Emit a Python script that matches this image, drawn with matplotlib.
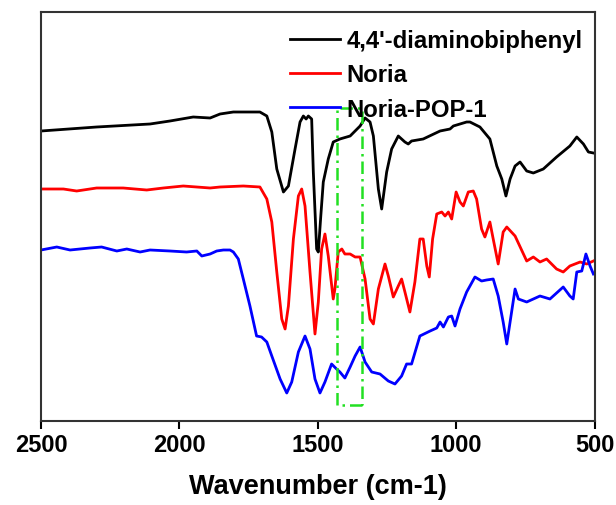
import matplotlib
matplotlib.use("Agg")
import matplotlib.pyplot as plt
from matplotlib.patches import Rectangle

plt.rcParams['font.family'] = ['Liberation Sans', 'DejaVu Sans']
plt.rcParams['font.weight'] = 'bold'

# 4,4'-diaminobiphenyl (black), wavenumber in cm-1, intensity in a.u.
wn_dab = [2500, 2299, 2106, 2034, 1950, 1889, 1853, 1805, 1709, 1684, 1666, 1648,
          1624, 1606, 1582, 1564, 1552, 1542, 1534, 1522, 1516, 1504, 1498, 1489,
          1480, 1462, 1444, 1420, 1383, 1347, 1329, 1311, 1299, 1281, 1269, 1251,
          1233, 1209, 1185, 1173, 1161, 1119, 1058, 1022, 1010, 962, 950, 914, 878,
          853, 835, 820, 805, 787, 769, 745, 721, 685, 637, 589, 564, 540, 522, 504]
int_dab = [297, 301, 304, 307, 311, 310, 314, 316, 316, 312, 296, 259,
           236, 242, 279, 306, 312, 309, 312, 309, 256, 179, 176, 212,
           246, 269, 286, 289, 292, 302, 310, 306, 292, 239, 219, 256,
           279, 292, 286, 284, 287, 289, 297, 299, 302, 306, 306, 301, 289,
           262, 249, 232, 249, 262, 266, 257, 255, 259, 271, 282, 291, 284, 276, 275]

# Noria (red)
wn_noria = [2500, 2419, 2371, 2299, 2203, 2118, 2058, 1986, 1889, 1853, 1769, 1709,
            1684, 1666, 1648, 1630, 1618, 1606, 1588, 1570, 1558, 1546, 1528, 1510,
            1498, 1486, 1474, 1462, 1444, 1438, 1426, 1413, 1402, 1383, 1365, 1347,
            1329, 1311, 1299, 1281, 1257, 1245, 1227, 1209, 1197, 1185, 1167, 1149,
            1131, 1119, 1106, 1097, 1085, 1070, 1052, 1040, 1028, 1016, 1000, 986,
            974, 956, 938, 926, 908, 896, 878, 866, 848, 830, 817, 787, 745, 721,
            697, 673, 637, 613, 589, 552, 528, 504]
int_noria = [239, 239, 237, 240, 240, 238, 240, 242, 240, 241, 242, 241,
             229, 206, 156, 109, 99, 122, 189, 232, 239, 222, 156, 94,
             126, 179, 194, 172, 129, 139, 176, 179, 174, 174, 171, 171,
             149, 109, 104, 139, 164, 152, 131, 142, 149, 136, 116, 146,
             189, 189, 162, 151, 189, 214, 216, 212, 216, 209, 236, 226,
             222, 236, 237, 229, 199, 191, 206, 189, 164, 196, 201, 192, 167, 171,
             166, 169, 159, 156, 162, 166, 164, 167]

# Noria-POP-1 (blue)
wn_pop = [2500, 2443, 2395, 2323, 2281, 2226, 2190, 2142, 2106, 2034, 1974, 1937,
          1919, 1889, 1865, 1841, 1817, 1805, 1787, 1769, 1745, 1721, 1703, 1684,
          1666, 1636, 1612, 1594, 1570, 1546, 1528, 1510, 1492, 1474, 1450, 1432,
          1420, 1402, 1383, 1365, 1347, 1329, 1305, 1275, 1245, 1221, 1197, 1179,
          1161, 1131, 1094, 1070, 1058, 1046, 1028, 1016, 1004, 986, 962, 932, 908,
          890, 866, 848, 830, 817, 805, 787, 775, 745, 697, 661, 613, 589, 577,
          564, 546, 531, 516, 504]
int_pop = [178, 181, 178, 180, 181, 177, 179, 176, 178, 177, 176, 177,
           172, 174, 177, 178, 178, 176, 169, 149, 122, 92, 91, 86,
           72, 49, 35, 46, 76, 92, 79, 49, 35, 46, 64, 59,
           56, 50, 61, 72, 81, 66, 56, 54, 47, 44, 52, 64,
           64, 92, 97, 100, 106, 101, 111, 112, 102, 119, 136, 151, 147,
           148, 149, 132, 106, 84, 106, 139, 129, 126, 132, 129, 141, 132, 129,
           156, 157, 174, 162, 154]

labels = ["4,4'-diaminobiphenyl", "Noria", "Noria-POP-1"]
colors = ['black', 'red', 'blue']

# highlighted band
band = (1430, 1340)
band_y = (23, 320)

fig = plt.figure(figsize=(6.16, 5.06), dpi=100)
ax = fig.add_axes([41 / 616, 1 - 422 / 506, 553.5 / 616, 409 / 506])

for x, y, lab, c in zip([wn_dab, wn_noria, wn_pop], [int_dab, int_noria, int_pop], labels, colors):
    ax.plot(x, y, color=c, lw=2, label=lab)

rect = Rectangle((band[1], band_y[0]), band[0] - band[1], band_y[1] - band_y[0],
                 fill=False, edgecolor='#22e022', lw=1.8, linestyle=(0, (5, 2, 1, 2)), zorder=5)
ax.add_patch(rect)

ax.set_xlim(2500, 500)
ax.set_ylim(7, 416)
ax.set_xticks([2500, 2000, 1500, 1000, 500])
ax.set_yticks([])
ax.tick_params(axis='x', direction='out', length=6, width=1.5, pad=3, labelsize=17)
for lbl in ax.get_xticklabels():
    lbl.set_fontweight('bold')
for s in ax.spines.values():
    s.set_linewidth(1.5)
    s.set_color('#333333')
ax.set_xlabel('Wavenumber (cm-1)', fontsize=19.5, fontweight='bold', labelpad=12)

leg = ax.legend(loc='upper left', bbox_to_anchor=(0.45, 0.958), frameon=False,
                fontsize=17.2, handlelength=2.1, handletextpad=0.25, labelspacing=0.47,
                borderpad=0, borderaxespad=0)
for t in leg.get_texts():
    t.set_fontweight('bold')

fig.savefig('out.png', dpi=100)
